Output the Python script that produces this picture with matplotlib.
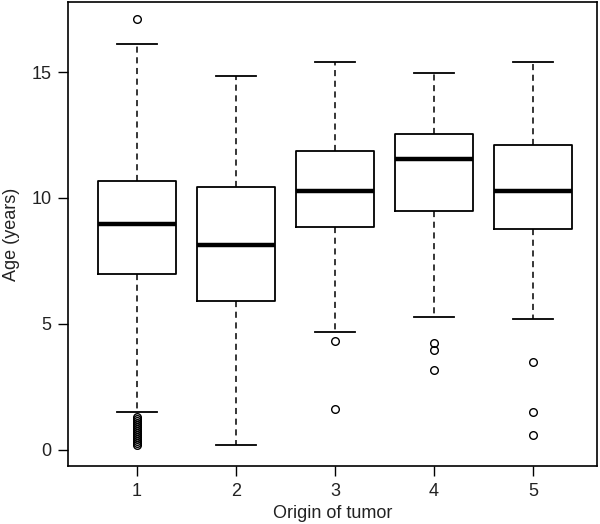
import matplotlib
matplotlib.use("Agg")
import matplotlib.pyplot as plt

plt.rcParams['font.family'] = ['Liberation Sans', 'DejaVu Sans']

# box statistics (age in years)
origins = ['1', '2', '3', '4', '5']
q1 = [6.97, 5.90, 8.84, 9.47, 8.76]
medians = [8.95, 8.14, 10.26, 11.56, 10.26]
q3 = [10.68, 10.44, 11.85, 12.55, 12.10]
whisker_lo = [1.48, 0.20, 4.67, 5.28, 5.19]
whisker_hi = [16.13, 14.86, 15.41, 14.95, 15.41]
outliers = [
    [17.11, 1.3, 1.22, 1.14, 1.06, 0.98, 0.9, 0.82, 0.74, 0.66, 0.58, 0.5,
     0.42, 0.34, 0.26, 0.2],
    [],
    [4.31, 1.62],
    [4.22, 3.96, 3.16],
    [3.49, 1.49, 0.59],
]

stats = []
for i in range(len(origins)):
    stats.append({
        'label': origins[i],
        'q1': q1[i], 'med': medians[i], 'q3': q3[i],
        'whislo': whisker_lo[i], 'whishi': whisker_hi[i],
        'fliers': outliers[i],
    })

fig = plt.figure(figsize=(6, 5.24), dpi=100)
ax = fig.add_axes([0.114, 0.111, 0.881, 0.885])

ax.bxp(stats, positions=range(1, 6), widths=0.79,
       boxprops=dict(color='black', linewidth=1.3),
       medianprops=dict(color='black', linewidth=3.2),
       whiskerprops=dict(color='black', linewidth=1.1, linestyle=(0, (4, 3))),
       capprops=dict(color='black', linewidth=1.3),
       flierprops=dict(marker='o', markerfacecolor='none', markeredgecolor='black',
                       markersize=5.5, markeredgewidth=1.0),
       capwidths=0.4)

ax.set_xlim(0.308, 5.646)
ax.set_ylim(-0.64, 17.78)
ax.set_yticks([0, 5, 10, 15])
ax.set_xticks(range(1, 6))
ax.set_xticklabels(origins)
ax.tick_params(direction='out', length=7.2, width=1.0, labelsize=13, pad=5,
               labelcolor='#222222')
for s in ax.spines.values():
    s.set_linewidth(1.2)

ax.set_xlabel('Origin of tumor', fontsize=13, labelpad=4, color='#222222')
ax.set_ylabel('Age (years)', fontsize=13, labelpad=8, color='#222222')

fig.savefig('out.png', dpi=100)
